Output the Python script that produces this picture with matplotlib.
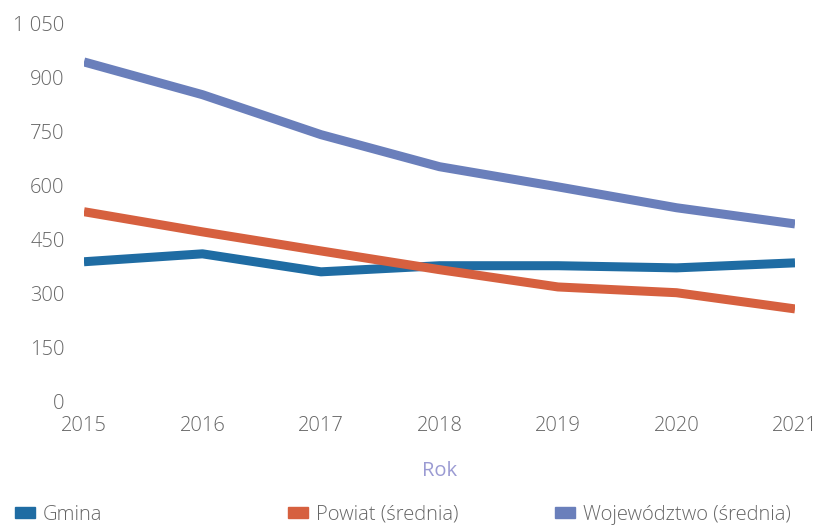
import matplotlib.pyplot as plt
from matplotlib.patches import Patch

years = [2015, 2016, 2017, 2018, 2019, 2020, 2021]
gmina = [389, 411, 361, 378, 378, 372, 386]
powiat = [528, 472, 419, 367, 319, 303, 258]
wojewodztwo = [944, 853, 742, 653, 597, 539, 494]

names = ["Gmina", "Powiat (średnia)", "Województwo (średnia)"]
colors = ["#1f6ca3", "#d6603f", "#6a7fbb"]
yticks = [0, 150, 300, 450, 600, 750, 900, 1050]
ytick_labels = ["0", "150", "300", "450", "600", "750", "900", "1 050"]

plt.rcParams['font.family'] = ['Open Sans', 'DejaVu Sans']
plt.rcParams['font.weight'] = 'light'

fig = plt.figure(figsize=(8.23, 5.28), dpi=100)
ax = fig.add_axes([0.102, 0.239, 0.864, 0.716])

for vals, c in zip([gmina, powiat, wojewodztwo], colors):
    ax.plot(years, vals, color=c, lw=6.5, solid_capstyle='butt', solid_joinstyle='round')

ax.set_xlim(2015, 2021)
ax.set_ylim(0, 1050)
ax.set_yticks(yticks)
ax.set_yticklabels(ytick_labels)
ax.set_xticks(years)
for s in ax.spines.values():
    s.set_visible(False)
ax.tick_params(axis='both', length=0, labelsize=14.5, colors='#666666')
ax.tick_params(axis='y', pad=14)
ax.tick_params(axis='x', pad=10)
ax.set_xlabel("Rok", fontsize=14.5, color='#9b9bd3', labelpad=18)

xs = [0.018, 0.350, 0.674]
for name, c, x in zip(names, colors, xs):
    fig.legend(handles=[Patch(color=c, label=name)], loc='center left',
               bbox_to_anchor=(x, 0.025), frameon=False, fontsize=14.5,
               handlelength=1.0, handleheight=0.5, handletextpad=0.4,
               labelcolor='#666666', borderaxespad=0, borderpad=0)

fig.savefig("out.png", dpi=100)
